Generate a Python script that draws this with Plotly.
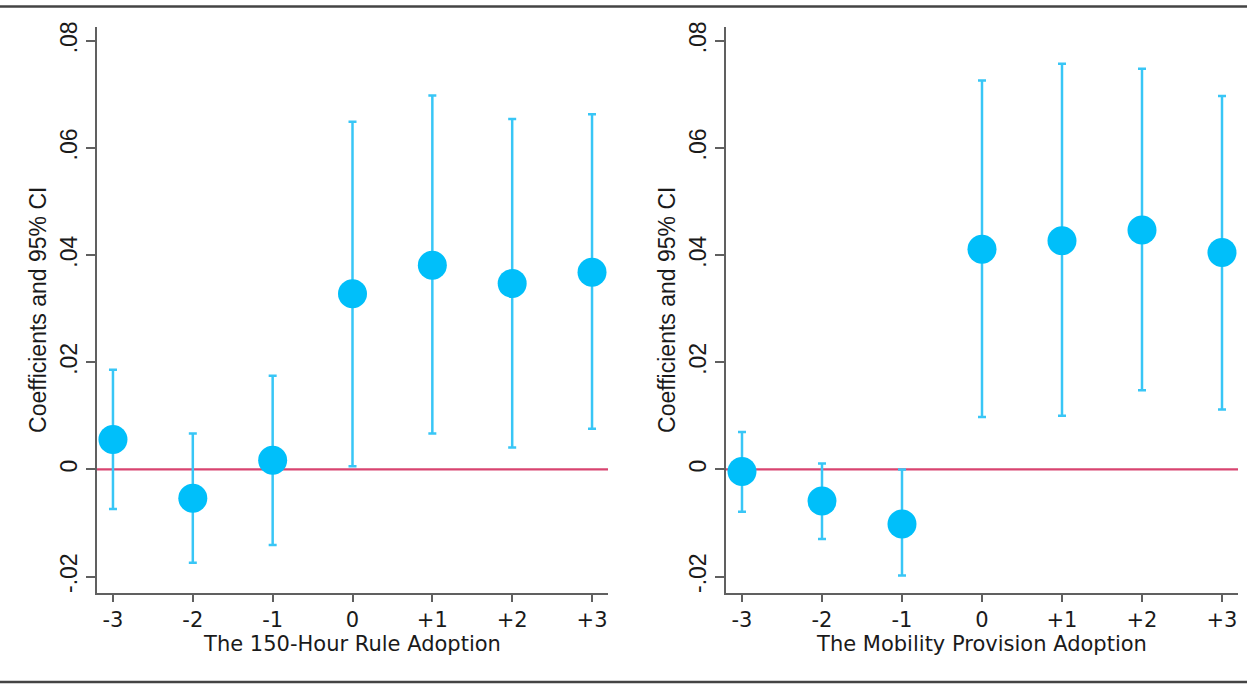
import plotly.graph_objects as go

# ---- data ----
periods = ["-3", "-2", "-1", "0", "+1", "+2", "+3"]
period_pos = [-3, -2, -1, 0, 1, 2, 3]

rule150_coef = [0.0056, -0.0054, 0.0017, 0.0328, 0.0381, 0.0347, 0.0368]
rule150_hi = [0.0186, 0.0067, 0.0175, 0.0649, 0.0698, 0.0654, 0.0663]
rule150_lo = [-0.0074, -0.0174, -0.0141, 0.0006, 0.0067, 0.0041, 0.0076]

mobility_coef = [-0.0004, -0.0059, -0.0102, 0.0411, 0.0427, 0.0447, 0.0405]
mobility_hi = [0.0070, 0.0011, 0.0000, 0.0726, 0.0757, 0.0748, 0.0697]
mobility_lo = [-0.0079, -0.0130, -0.0198, 0.0098, 0.0100, 0.0148, 0.0112]

ytick_vals = [-0.02, 0, 0.02, 0.04, 0.06, 0.08]
ytick_text = ["-.02", "0", ".02", ".04", ".06", ".08"]

x_titles = ["The 150-Hour Rule Adoption", "The Mobility Provision Adoption"]
y_title = "Coefficients and 95% CI"

MARKER = "#00BFFA"
ERR = "#38C6F6"
RED = "#D84470"
AXIS = "#606060"
TXT = "#1a1a1a"

W, H = 1247, 684
fig = go.Figure()

panels = [
    (rule150_coef, rule150_hi, rule150_lo),
    (mobility_coef, mobility_hi, mobility_lo),
]
xdomains = [[97 / W, 608 / W], [726 / W, 1238 / W]]
ydomain = [1 - 592 / H, 1 - 22 / H]

for i, (coef, hi, lo) in enumerate(panels):
    ax = "" if i == 0 else str(i + 1)
    plus = [h - c for h, c in zip(hi, coef)]
    minus = [c - l for c, l in zip(coef, lo)]
    fig.add_shape(type="line", xref="x" + ax + " domain", yref="y" + ax,
                  x0=0, x1=1, y0=0, y1=0, line=dict(color=RED, width=2.2),
                  layer="below")
    fig.add_trace(go.Scatter(
        x=period_pos, y=coef, mode="markers",
        marker=dict(color=MARKER, size=29, line=dict(width=0)),
        error_y=dict(type="data", symmetric=False, array=plus, arrayminus=minus,
                     color=ERR, thickness=2.5, width=4),
        xaxis="x" + ax, yaxis="y" + ax, showlegend=False,
    ))
    xaxis = dict(
        domain=xdomains[i], range=[-3.2, 3.2], anchor="y" + ax,
        tickvals=period_pos, ticktext=periods, ticks="outside", ticklen=7,
        tickwidth=1.5, tickcolor=AXIS, showline=True, linecolor=AXIS, linewidth=2,
        showgrid=False, zeroline=False,
        tickfont=dict(family="DejaVu Sans", size=21, color=TXT),
        title=dict(text=x_titles[i], standoff=4,
                   font=dict(family="DejaVu Sans", size=21, color=TXT)),
    )
    yaxis = dict(
        domain=ydomain, range=[-0.023, 0.0826], anchor="x" + ax,
        tickvals=ytick_vals, ticktext=ytick_text, tickangle=-90,
        ticks="outside", ticklen=9, tickwidth=1.5, tickcolor=AXIS,
        showline=True, linecolor=AXIS, linewidth=2, showgrid=False, zeroline=False,
        tickfont=dict(family="Liberation Sans", size=23, color=TXT),
        title=dict(text=y_title, standoff=3,
                   font=dict(family="Liberation Sans", size=23, color=TXT)),
    )
    fig.update_layout(**{"xaxis" + ax: xaxis, "yaxis" + ax: yaxis})

# frame lines at top and bottom of the figure
for yy in [1 - 1.5 / H, 1 - 682 / H]:
    fig.add_shape(type="line", xref="paper", yref="paper", x0=0, x1=1,
                  y0=yy, y1=yy, line=dict(color="#444", width=2.5))

fig.update_layout(
    width=W, height=H, margin=dict(l=0, r=0, t=0, b=0),
    paper_bgcolor="white", plot_bgcolor="white",
)
fig.write_html("out.html", config={"displayModeBar": False},
               post_script="document.body.style.margin='0';document.body.style.overflow='hidden';")
